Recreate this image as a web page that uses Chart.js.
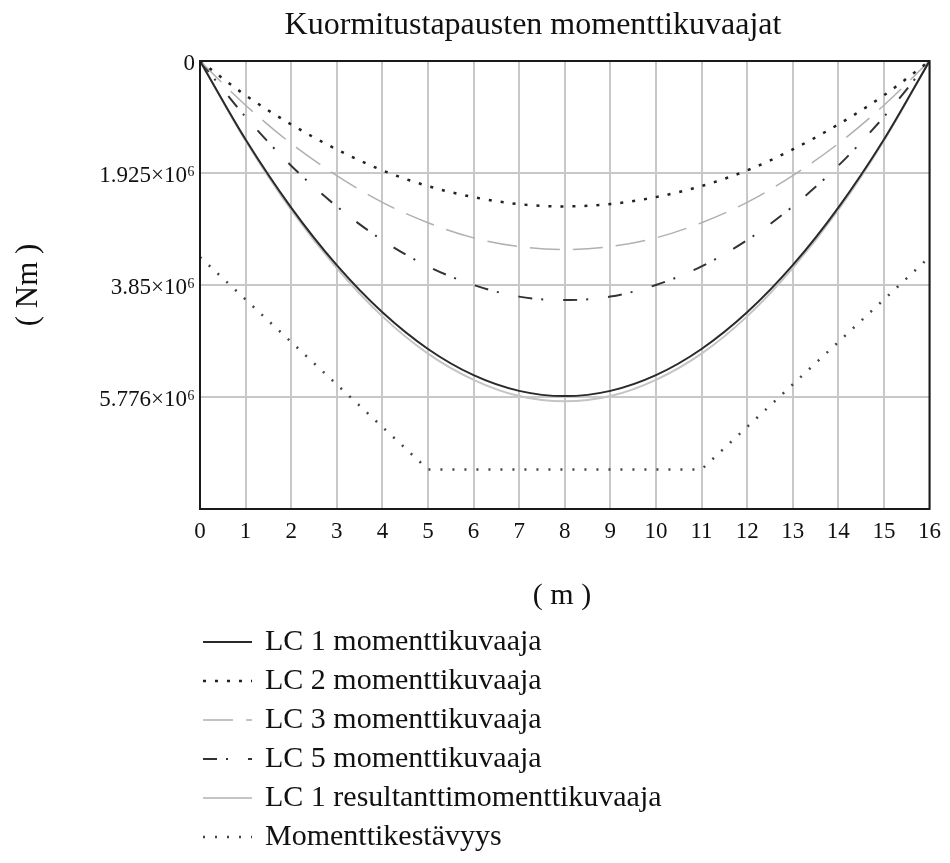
<!DOCTYPE html>
<html>
<head>
<meta charset="utf-8">
<script src="https://cdn.jsdelivr.net/npm/chart.js@4.4.1/dist/chart.umd.min.js"></script>
<style>
  body { margin: 0; background: #fff; }
  #kuvaaja { display: block; }
</style>
</head>
<body>
<canvas id="kuvaaja" width="950" height="863"></canvas>
<script>
// pituusasemat (m)
const xm = [0, 1, 2, 3, 4, 5, 6, 7, 8, 9, 10, 11, 12, 13, 14, 15, 16];

// momentit (Nm)
const lc1 = [0, 1.35e6, 2.52e6, 3.51e6, 4.32e6, 4.95e6, 5.40e6, 5.67e6, 5.76e6, 5.67e6, 5.40e6, 4.95e6, 4.32e6, 3.51e6, 2.52e6, 1.35e6, 0];
const lc2 = [0, 0.59e6, 1.09e6, 1.52e6, 1.88e6, 2.15e6, 2.34e6, 2.46e6, 2.50e6, 2.46e6, 2.34e6, 2.15e6, 1.88e6, 1.52e6, 1.09e6, 0.59e6, 0];
const lc3 = [0, 0.76e6, 1.42e6, 1.97e6, 2.43e6, 2.78e6, 3.04e6, 3.19e6, 3.24e6, 3.19e6, 3.04e6, 2.78e6, 2.43e6, 1.97e6, 1.42e6, 0.76e6, 0];
const lc5 = [0, 0.96e6, 1.80e6, 2.50e6, 3.08e6, 3.53e6, 3.85e6, 4.05e6, 4.11e6, 4.05e6, 3.85e6, 3.53e6, 3.08e6, 2.50e6, 1.80e6, 0.96e6, 0];
const lc1Res = [0, 1.37e6, 2.56e6, 3.56e6, 4.39e6, 5.03e6, 5.48e6, 5.76e6, 5.85e6, 5.76e6, 5.48e6, 5.03e6, 4.39e6, 3.56e6, 2.56e6, 1.37e6, 0];

// momenttikestävyys, taitepisteet
const kestX = [0, 5, 11, 16];
const kest = [3.37e6, 7.02e6, 7.02e6, 3.37e6];

// y-akselin jako
const yStep = 1.9252e6;
const yMax = 4 * yStep;

const nimet = [
  'LC 1 momenttikuvaaja',
  'LC 2 momenttikuvaaja',
  'LC 3 momenttikuvaaja',
  'LC 5 momenttikuvaaja',
  'LC 1 resultanttimomenttikuvaaja',
  'Momenttikestävyys'
];

const pisteet = (xs, ys) => xs.map((x, i) => ({ x: x, y: ys[i] }));

const serif = '"Liberation Serif", "DejaVu Serif", serif';

// otsikot, kehys ja selite piirretään itse
const lisat = {
  id: 'lisat',
  afterDraw(chart) {
    const ctx = chart.ctx;
    const a = chart.chartArea;
    ctx.save();

    ctx.strokeStyle = '#1a1a1a';
    ctx.lineWidth = 2;
    ctx.setLineDash([]);
    ctx.strokeRect(a.left, a.top, a.right - a.left, a.bottom - a.top);

    ctx.fillStyle = '#111';
    ctx.textAlign = 'center';
    ctx.textBaseline = 'middle';
    ctx.font = '32px ' + serif;
    ctx.fillText('Kuormitustapausten momenttikuvaajat', 533, 26);
    ctx.font = '30px ' + serif;
    ctx.fillText('( m )', 562, 596);

    ctx.save();
    ctx.translate(29, (a.top + a.bottom) / 2);
    ctx.rotate(-Math.PI / 2);
    ctx.font = '31px ' + serif;
    ctx.fillText('( Nm )', 0, 0);
    ctx.restore();

    // selite
    ctx.textAlign = 'left';
    ctx.font = '30px ' + serif;
    chart.data.datasets.forEach((ds, i) => {
      const y = 642 + i * 39;
      ctx.strokeStyle = ds.borderColor;
      ctx.lineWidth = ds.borderWidth;
      ctx.setLineDash(ds.borderDash || []);
      ctx.beginPath();
      ctx.moveTo(203, y);
      ctx.lineTo(252, y);
      ctx.stroke();
      ctx.fillText(ds.label, 265, y);
    });
    ctx.restore();
  }
};

const ctx = document.getElementById('kuvaaja').getContext('2d');
new Chart(ctx, {
  type: 'line',
  data: {
    datasets: [
      { label: nimet[0], data: pisteet(xm, lc1), borderColor: '#2a2a2a', borderWidth: 2, cubicInterpolationMode: 'monotone' },
      { label: nimet[1], data: pisteet(xm, lc2), borderColor: '#222', borderWidth: 2.5, borderDash: [3, 9], cubicInterpolationMode: 'monotone' },
      { label: nimet[2], data: pisteet(xm, lc3), borderColor: '#b0b0b0', borderWidth: 1.5, borderDash: [30, 13], cubicInterpolationMode: 'monotone' },
      { label: nimet[3], data: pisteet(xm, lc5), borderColor: '#333', borderWidth: 2, borderDash: [14, 9, 2, 20], cubicInterpolationMode: 'monotone' },
      { label: nimet[4], data: pisteet(xm, lc1Res), borderColor: '#c4c4c4', borderWidth: 2, cubicInterpolationMode: 'monotone' },
      { label: nimet[5], data: pisteet(kestX, kest), borderColor: '#444', borderWidth: 2.5, borderDash: [2, 10], tension: 0 }
    ]
  },
  options: {
    responsive: false,
    animation: false,
    devicePixelRatio: 1,
    elements: { point: { radius: 0 } },
    layout: { padding: { top: 61, right: 20, left: 0, bottom: 0 } },
    plugins: {
      legend: { display: false },
      title: { display: false },
      tooltip: { enabled: false }
    },
    scales: {
      x: {
        type: 'linear',
        min: 0,
        max: 16,
        afterFit: s => { s.height = 354; },
        ticks: {
          stepSize: 1,
          padding: 9,
          color: '#111',
          font: { family: serif, size: 23 }
        },
        grid: { color: '#c8c8c8', lineWidth: 2, drawTicks: false },
        border: { display: false }
      },
      y: {
        min: 0,
        max: yMax,
        reverse: true,
        afterFit: s => { s.width = 200; },
        afterBuildTicks: s => {
          s.ticks = [0, 1, 2, 3, 4].map(i => ({ value: i * yStep }));
        },
        ticks: {
          padding: 5,
          labelOffset: 3,
          color: '#111',
          font: { family: serif, size: 23 },
          callback: v => {
            if (v === 0) return '0';
            if (v >= yMax - 1) return '';
            return parseFloat((v / 1e6).toFixed(3)) + '×10⁶';
          }
        },
        grid: { color: '#c8c8c8', lineWidth: 2, drawTicks: false },
        border: { display: false }
      }
    }
  },
  plugins: [lisat]
});
</script>
</body>
</html>
